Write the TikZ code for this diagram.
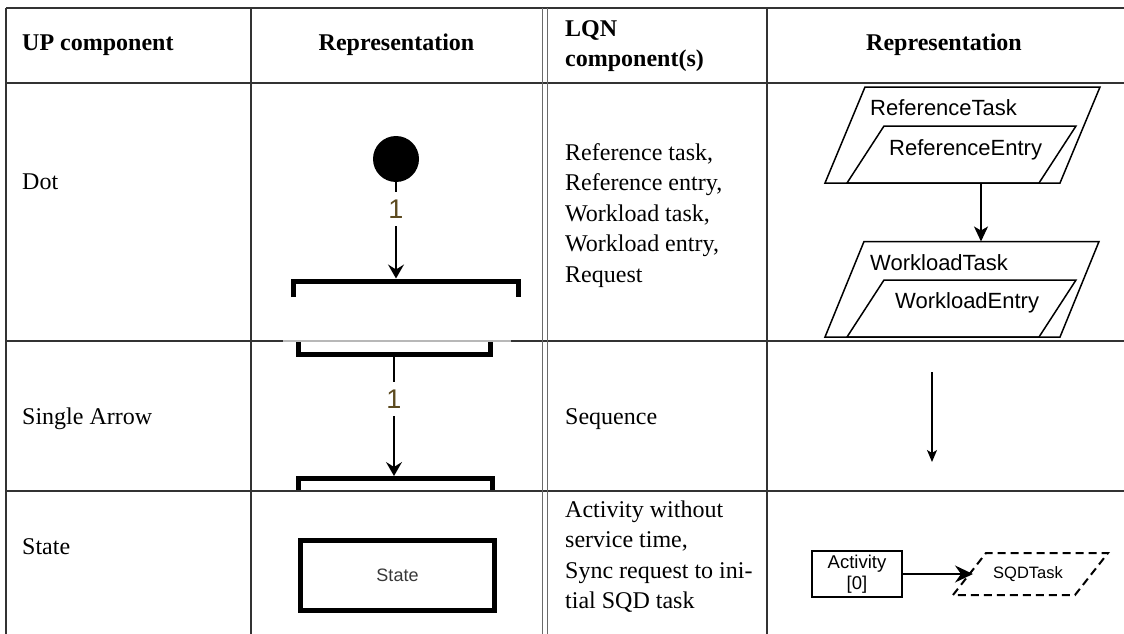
\documentclass[tikz,border=0pt]{standalone}
\usepackage{fontspec}
\setmainfont{Liberation Serif}
\newfontfamily\arialfont{Liberation Sans}
\usetikzlibrary{arrows.meta}
\definecolor{gridc}{rgb}{0.2,0.2,0.2}
\definecolor{dblc}{rgb}{0.42,0.42,0.42}
\definecolor{fadec}{rgb}{0.72,0.72,0.72}
\definecolor{lblc}{rgb}{0.36,0.29,0.12}
\definecolor{statec}{rgb}{0.22,0.22,0.22}
\begin{document}
\begin{tikzpicture}[x=1pt,y=-1pt,
  gridline/.style={draw=gridc,line width=1.3pt},
  dblline/.style={draw=dblc,line width=1pt},
  bodytext/.style={anchor=base west,inner sep=0pt,font=\fontsize{24}{30}\selectfont},
  headtext/.style={anchor=base,inner sep=0pt,font=\fontsize{24}{30}\selectfont\bfseries},
  headleft/.style={headtext,anchor=base west},
  umlthick/.style={line width=5pt,line cap=butt,line join=miter},
  umlstem/.style={line width=1.5pt},
  umlarrow/.style={line width=1.5pt,-{Stealth[length=14pt,width=16pt,inset=5pt]}},
  numlabel/.style={font=\arialfont\fontsize{27}{28}\selectfont,text=lblc,inner sep=0pt,minimum height=34pt},
  lqnshape/.style={draw=black,line width=1.5pt,line join=miter},
  lqntext/.style={font=\arialfont\fontsize{22}{24}\selectfont,anchor=base west,inner sep=0pt},
  lqnarrow/.style={line width=1.5pt,-{Stealth[length=15pt,width=14pt,inset=4pt]}},
  seqarrow/.style={line width=1.3pt,-{Stealth[length=12pt,width=10pt,inset=3pt]}},
  actarrow/.style={line width=1.5pt,-{Stealth[length=18pt,width=17pt,inset=6pt]}},
  sqdshape/.style={draw=black,line width=2pt,dash pattern=on 8pt off 5pt,line join=miter}
]
\useasboundingbox (0,0) rectangle (1124,634);

% ---------- header ----------
\node[headleft] (h1) at (22,51) {UP component};
\node[headtext] (h2) at (396.5,51) {Representation};
\node[headleft] (h3a) at (565,36.5) {LQN};
\node[headleft] (h3b) at (565,66.5) {component(s)};
\node[headtext] (h4) at (944,51) {Representation};

% ---------- row 1 ----------
\node[bodytext] (c1r1) at (22,189) {Dot};
\node[bodytext] (c3r1a) at (565,160) {Reference task,};
\node[bodytext] (c3r1b) at (565,190.5) {Reference entry,};
\node[bodytext] (c3r1c) at (565,221) {Workload task,};
\node[bodytext] (c3r1d) at (565,251.5) {Workload entry,};
\node[bodytext] (c3r1e) at (565,282) {Request};

\node[circle,fill=black,minimum size=46pt,inner sep=0pt] (initdot) at (396,159) {};
\node[numlabel] (lblA) at (396,209) {1};
\coordinate (brA) at (396,278.5);
\draw[umlstem] (initdot.south) -- (lblA.north);
\draw[umlarrow] (lblA.south) -- (brA);
\draw[umlthick] (293,297) -- (293,281) -- (518,281) -- (518,297);

\draw[lqnshape] (825,183) -- (865,87) -- (1100,87) -- (1060,183) -- cycle;
\draw[lqnshape] (847,183) -- (884,126) -- (1076,126) -- (1039,183) -- cycle;
\node[lqntext] (reftask) at (870,115.5) {ReferenceTask};
\node[lqntext] (refentry) at (889,155) {ReferenceEntry};
\draw[lqnshape] (825,337) -- (864,241.5) -- (1099,241.5) -- (1060,337) -- cycle;
\draw[lqnshape] (847,337) -- (884,280) -- (1076,280) -- (1039,337) -- cycle;
\node[lqntext] (wltask) at (870,270) {WorkloadTask};
\node[lqntext] (wlentry) at (895,308.5) {WorkloadEntry};
\coordinate (rtbot) at (981,183);
\coordinate (wttop) at (981,241.5);
\draw[lqnarrow] (rtbot) -- (wttop);

% ---------- row 2 ----------
\node[bodytext] (c1r2) at (22,424) {Single Arrow};
\node[bodytext] (c3r2) at (565,424) {Sequence};
\draw[umlthick] (298,341) -- (298,354) -- (490,354) -- (490,341);
\coordinate (stB) at (394,356.5);
\node[numlabel] (lblB) at (394,399) {1};
\coordinate (brB) at (394,476);
\draw[umlstem] (stB) -- (lblB.north);
\draw[umlarrow] (lblB.south) -- (brB);
\draw[umlthick] (298,491) -- (298,478.5) -- (492,478.5) -- (492,491);
\coordinate (seqA) at (932,372);
\coordinate (seqB) at (932,462);
\draw[seqarrow] (seqA) -- (seqB);

% ---------- row 3 ----------
\node[bodytext] (c1r3) at (22,554) {State};
\node[bodytext] (c3r3a) at (565,517) {Activity without};
\node[bodytext] (c3r3b) at (565,547.5) {service time,};
\node[bodytext] (c3r3c) at (565,578) {Sync request to ini-};
\node[bodytext] (c3r3d) at (565,608.5) {tial SQD task};
\node[draw=black,line width=5pt,minimum width=194pt,minimum height=70pt,inner sep=0pt,
      font=\arialfont\fontsize{18}{20}\selectfont,text=statec] (statebox) at (397.5,575.5) {State};
\node[draw=black,line width=1.5pt,minimum width=90pt,minimum height=46pt,inner sep=0pt,
      align=center,font=\arialfont\fontsize{18.5}{20.5}\selectfont] (activity) at (857,574) {Activity\\{}[0]};
\draw[sqdshape] (953,595) -- (986,553) -- (1108,553) -- (1075,595) -- cycle;
\node[font=\arialfont\fontsize{16.5}{18}\selectfont,inner sep=0pt] (sqdtask) at (1028,574) {SQDTask};
\coordinate (sqdin) at (973,574);
\draw[actarrow] (activity.east) -- (sqdin);

% ---------- grid ----------
\draw[gridline] (6,8) -- (1124,8);
\draw[gridline] (6,83) -- (1124,83);
\draw[gridline] (6,341) -- (1124,341);
\draw[gridline] (6,491) -- (1124,491);
\draw[draw=fadec,line width=1.4pt] (283,341) -- (511,341);
\draw[gridline] (6,8) -- (6,634);
\draw[gridline] (251,8) -- (251,634);
\draw[dblline] (542,8) -- (542,634);
\draw[dblline] (547,8) -- (547,634);
\draw[gridline] (767,8) -- (767,634);
\end{tikzpicture}
\end{document}
